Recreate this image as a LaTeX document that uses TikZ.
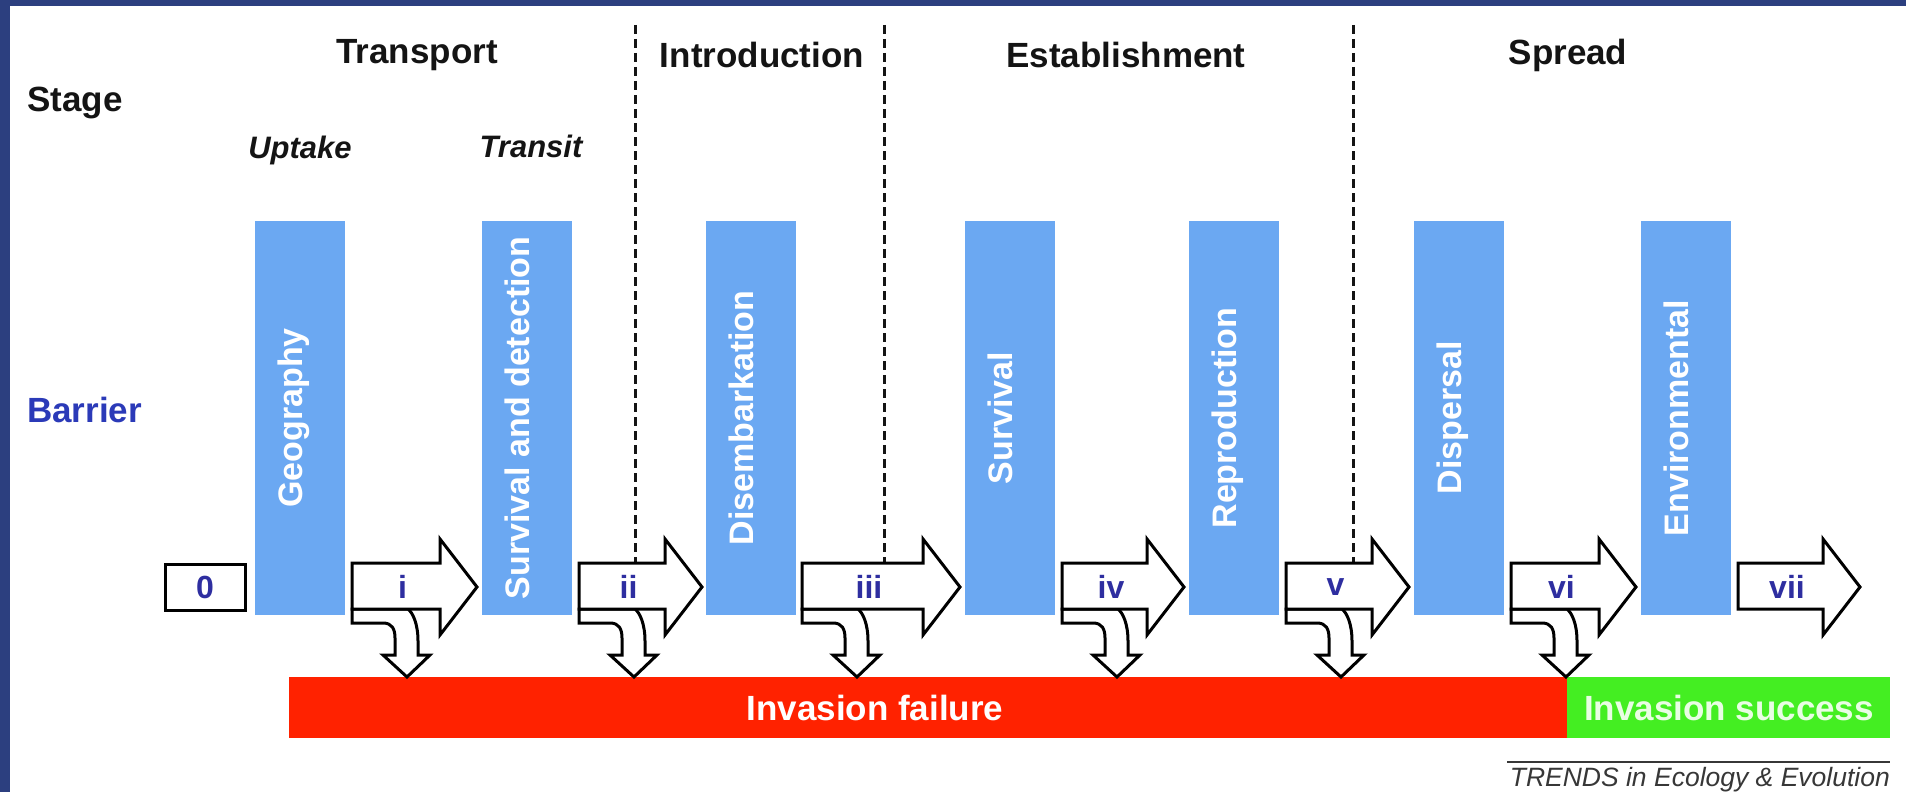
\documentclass[tikz,border=0pt]{standalone}
\usepackage{fontspec}
\setmainfont{Liberation Sans}
\definecolor{barblue}{HTML}{6BA8F2}
\definecolor{lblblue}{HTML}{2E2EA0}
\definecolor{barrierblue}{HTML}{2B3AB8}
\definecolor{failred}{HTML}{FF2200}
\definecolor{succgreen}{HTML}{44EE22}
\definecolor{frameblue}{HTML}{2C3F7F}
\definecolor{framemid}{HTML}{4A65AE}
\definecolor{inktext}{HTML}{141414}
\begin{document}
\begin{tikzpicture}[x=1pt,y=-1pt,
  barbox/.style={fill=barblue, draw=none, minimum width=90pt, minimum height=394pt, inner sep=0pt},
  barlabel/.style={text=white, font=\fontsize{34}{40}\selectfont\bfseries, rotate=90, inner sep=0pt, text height=.72em, text depth=.2em},
  blockarrow/.style={draw=black, line width=3pt, fill=white, line join=miter},
  arrlabel/.style={text=lblblue, font=\fontsize{32}{36}\selectfont\bfseries, inner sep=0pt},
  stagelabel/.style={text=inktext, font=\fontsize{35}{40}\selectfont\bfseries, inner sep=0pt},
  sublabel/.style={text=inktext, font=\fontsize{31}{36}\selectfont\bfseries\itshape, inner sep=0pt},
  divider/.style={draw=inktext, line width=3pt, dash pattern=on 9pt off 5pt},
  bandtext/.style={text=white, font=\fontsize{35}{40}\selectfont\bfseries, inner sep=0pt}]
\useasboundingbox (0,0) rectangle (1906,792);
\fill[white] (0,0) rectangle (1906,792);
% frame
\shade[left color=frameblue, middle color=framemid, right color=frameblue] (0,0) rectangle (1906,6);
\fill[frameblue] (0,0) rectangle (9.5,792);

% dashed stage dividers
\coordinate (d1t) at (635,25);  \coordinate (d1b) at (635,612);
\coordinate (d2t) at (884,25);  \coordinate (d2b) at (884,612);
\coordinate (d3t) at (1353,25); \coordinate (d3b) at (1353,612);
\draw[divider] (d1t) -- (d1b);
\draw[divider] (d2t) -- (d2b);
\draw[divider] (d3t) -- (d3b);

% headings
\node[stagelabel, anchor=west] (stage) at (27,103) {Stage};
\node[stagelabel, anchor=west, text=barrierblue] (barrier) at (27,410) {Barrier};
\node[stagelabel] (transport) at (417,55) {Transport};
\node[stagelabel] (introduction) at (762,55) {Introduction};
\node[stagelabel] (establishment) at (1126,55) {Establishment};
\node[stagelabel] (spread) at (1568,55) {Spread};
\node[sublabel] (uptake) at (300,150) {Uptake};
\node[sublabel] (transit) at (531,146) {Transit};

% barriers
\node[barbox] (b1) at (300,418) {};
\node[barbox] (b2) at (527,418) {};
\node[barbox] (b3) at (751,418) {};
\node[barbox] (b4) at (1010,418) {};
\node[barbox] (b5) at (1234,418) {};
\node[barbox] (b6) at (1459,418) {};
\node[barbox] (b7) at (1686,418) {};
\node[barlabel] (t1) at (b1) {Geography};
\node[barlabel] (t2) at (b2) {Survival and detection};
\node[barlabel] (t3) at (b3) {Disembarkation};
\node[barlabel] (t4) at (b4) {Survival};
\node[barlabel] (t5) at (b5) {Reproduction};
\node[barlabel] (t6) at (b6) {Dispersal};
\node[barlabel] (t7) at (b7) {Environmental};

% outcome bars
\node[fill=failred, minimum width=1278pt, minimum height=61pt, inner sep=0pt] (fail) at (928,707.5) {};
\node[fill=succgreen, minimum width=323pt, minimum height=61pt, inner sep=0pt] (succ) at (1728.5,707.5) {};
\node[bandtext] (failtext) at (875,708) {Invasion failure};
\node[bandtext, text=white!88!succgreen] (succtext) at (1729,708) {Invasion success};

% start box
\node[draw=black, line width=3pt, fill=white, minimum width=80pt, minimum height=46pt, inner sep=0pt] (zero) at (205,587) {};
\node[arrlabel] (zerolab) at (zero) {0};

% block arrows with failure branches
\foreach \xa/\xt/\lab/\nm in {352/477/i/1,579/702/ii/2,802/960/iii/3,1062/1184/iv/4,1286/1409/v/5,1511/1636/vi/6}{
  \pgfmathsetmacro{\hb}{\xt-37}
  \pgfmathsetmacro{\lx}{(\xa+\xt)/2-12}
  \draw[blockarrow] (\xa,609) -- (\xa,623) -- ({\xa+31},623)
     .. controls ({\xa+40},623) and ({\xa+43},629) .. ({\xa+43},638)
     -- ({\xa+43},655) -- ({\xa+31},655) -- ({\xa+55},677) -- ({\xa+78},655) -- ({\xa+66},655) -- ({\xa+66},641)
     .. controls ({\xa+66},624) and ({\xa+61},613) .. ({\xa+56},609) -- cycle;
  \draw[blockarrow] (\xa,563) -- (\hb,563) -- (\hb,539) -- (\xt,587) -- (\hb,635) -- (\hb,609) -- (\xa,609) -- cycle;
  \node[arrlabel] (lab\nm) at (\lx,587) {\lab};
}
\draw[blockarrow] (1738,563) -- (1823,563) -- (1823,539) -- (1860,587) -- (1823,635) -- (1823,609) -- (1738,609) -- cycle;
\node[arrlabel] (lab7) at (1787,587) {vii};

% source
\coordinate (rulel) at (1507,762);
\coordinate (ruler) at (1890,762);
\draw[line width=1.3pt, draw=inktext!85] (rulel) -- (ruler);
\node[anchor=east, inner sep=0pt, text=inktext!85, font=\fontsize{26.5}{30}\selectfont\itshape] (trends) at (1890,780) {TRENDS in Ecology \& Evolution};
\end{tikzpicture}
\end{document}
